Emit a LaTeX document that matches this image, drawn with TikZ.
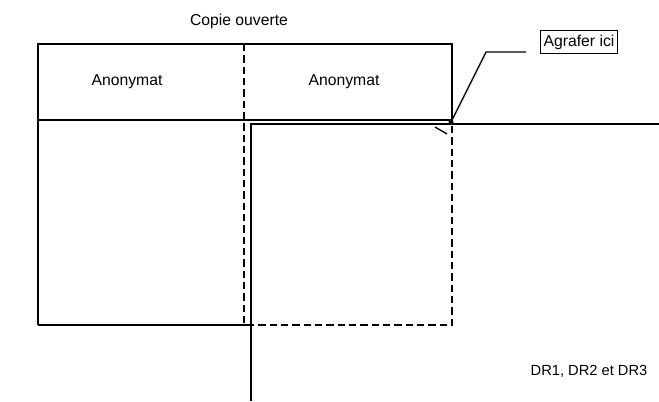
\documentclass[tikz,border=0pt]{standalone}
\usepackage{fontspec}
\setmainfont{Liberation Sans}
\begin{document}
\begin{tikzpicture}[x=0.75pt,y=-0.75pt, line width=1.5pt,
  lbl/.style={font=\fontsize{11.8}{14}\selectfont, inner sep=0pt},
  dsh/.style={dash pattern=on 5.5pt off 3pt},
  thinline/.style={line width=1pt}]
\useasboundingbox (0,0) rectangle (659,401);
% open copy (first sheet)
\coordinate (tl) at (38,44);
\coordinate (tr) at (452,44);
\coordinate (ml) at (38,120);
\coordinate (mr) at (452,120);
\coordinate (bl) at (38,325);
\coordinate (bm) at (247,325);
\coordinate (br) at (452,325);
\coordinate (ft) at (244,44);
\coordinate (fb) at (244,325);
\draw (bl) -- (tl) -- (tr) -- (mr);
\draw (ml) -- (mr);
\draw (bl) -- (bm);
\draw[dsh] (bm) -- (br) -- (mr);
\draw[dsh] (ft) -- (fb);
% second sheet
\coordinate (s2r) at (659,124);
\coordinate (s2c) at (251,124);
\coordinate (s2b) at (251,401);
\draw (s2r) -- (s2c) -- (s2b);
% staple
\coordinate (staple) at (451,122);
\fill (staple) circle (2.5);
\coordinate (tk1) at (435,127);
\coordinate (tk2) at (447,134);
\draw[thinline] (tk1) -- (tk2);
% labels
\node[lbl] (title) at (239,21) {Copie ouverte};
\node[lbl] (an1) at (127,82) {Anonymat};
\node[lbl] (an2) at (344,82) {Anonymat};
\node[lbl, draw, line width=0.8pt, inner xsep=2pt, inner ysep=3pt] (agr) at (579,42) {Agrafer ici};
\node[lbl, font=\fontsize{11}{13}\selectfont] (dr) at (589,371) {DR1, DR2 et DR3};
\coordinate (lk) at (486,52);
\coordinate (le) at (526,52);
\draw[thinline] (staple) -- (lk) -- (le);
\end{tikzpicture}
\end{document}
